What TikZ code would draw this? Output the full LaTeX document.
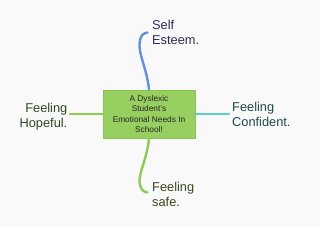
\documentclass[tikz,border=0pt]{standalone}
\usepackage{fontspec}
\setmainfont{Liberation Sans}
\definecolor{bg}{HTML}{F9F9F9}
\definecolor{boxfill}{HTML}{97CF60}
\definecolor{boxline}{HTML}{88C651}
\definecolor{blueline}{HTML}{5E92E2}
\definecolor{greenline}{HTML}{8DCB55}
\definecolor{tealline}{HTML}{5BCFC0}
\definecolor{tblue}{HTML}{2B2E5E}
\definecolor{tolive}{HTML}{3A4820}
\definecolor{tgreen}{HTML}{2F4A24}
\definecolor{tteal}{HTML}{1F4C48}
\begin{document}
\begin{tikzpicture}[x=1pt,y=-1pt,
  lbl/.style={inner sep=0pt,font=\fontsize{12.8}{14.6}\selectfont},
  conn/.style={line width=2.4pt,line cap=round}]
\fill[bg] (0,0) rectangle (320,227);
\useasboundingbox (0,0) rectangle (320,227);
\node[draw=boxline,fill=boxfill,line width=0.8pt,minimum width=92pt,minimum height=48pt,inner sep=0pt,
  align=center,text=black!85,font=\fontsize{8.3}{10.4}\selectfont] (c) at (149,114)
  {A Dyslexic\\Student's\\Emotional Needs In\\School!};
\node[lbl,anchor=north west,align=left,text=tblue] (se) at (152,20.5) {Self\\Esteem.};
\node[lbl,anchor=north west,align=left,text=tolive] (fs) at (152,182) {Feeling\\safe.};
\node[lbl,anchor=north east,align=right,text=tgreen] (fh) at (67.5,103) {Feeling\\Hopeful.};
\node[lbl,anchor=north west,align=left,text=tteal] (fc) at (232,102.5) {Feeling\\Confident.};
\coordinate (t1) at (147.5,32.5);
\coordinate (b1) at (147.5,192.5);
\draw[conn,blueline] (c.north) .. controls (147,68) and (137,52) .. (140,40) .. controls (141,35) and (144,33) .. (t1);
\draw[conn,greenline] (c.south) .. controls (147,160) and (137,176) .. (140,185) .. controls (141,190) and (144,192) .. (b1);
\draw[conn,greenline] (c.west) -- (70,114) coordinate (l1);
\draw[conn,tealline] (c.east) -- (229,114) coordinate (r1);
\end{tikzpicture}
\end{document}
